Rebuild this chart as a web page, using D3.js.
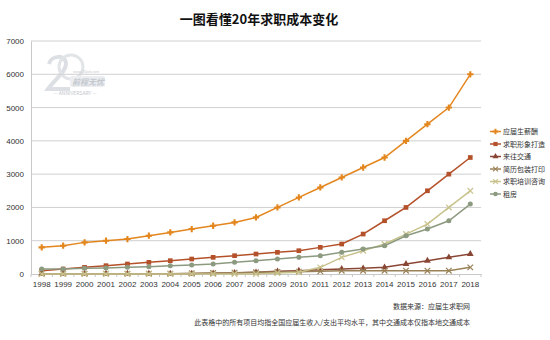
<!DOCTYPE html>
<html>
<head>
<meta charset="utf-8">
<script src="https://cdn.jsdelivr.net/npm/d3@7"></script>
<style>
  body { margin: 0; background: #fff; }
  svg { display: block; font-family: "Noto Sans CJK SC", "Noto Sans", sans-serif; }
</style>
</head>
<body>
<svg id="chart"></svg>
<script>
// years on the x axis
const years = ["1998", "1999", "2000", "2001", "2002", "2003", "2004", "2005", "2006", "2007",
  "2008", "2009", "2010", "2011", "2012", "2013", "2014", "2015", "2016", "2017", "2018"];

// each series, one value per year
const salary    = [800, 850, 950, 1000, 1050, 1150, 1250, 1350, 1450, 1550, 1700, 2000, 2300, 2600, 2900, 3200, 3500, 4000, 4500, 5000, 6000];
const image     = [100, 150, 200, 250, 300, 350, 400, 450, 500, 550, 600, 650, 700, 800, 900, 1200, 1600, 2000, 2500, 3000, 3500];
const transport = [10, 10, 10, 10, 10, 10, 10, 10, 20, 30, 50, 80, 100, 130, 150, 170, 200, 300, 400, 500, 600];
const resume    = [10, 10, 10, 10, 10, 10, 10, 20, 30, 40, 50, 60, 70, 80, 100, 100, 100, 100, 100, 100, 200];
const training  = [0, 0, 0, 0, 0, 0, 0, 0, 0, 0, 0, 30, 50, 200, 500, 700, 900, 1200, 1500, 2000, 2500];
const rent      = [150, 150, 170, 180, 200, 220, 250, 270, 300, 350, 400, 450, 500, 550, 650, 750, 850, 1150, 1350, 1600, 2100];

const seriesNames = ["应届生薪酬", "求职形象打造", "来往交通", "简历包装打印", "求职培训咨询", "租房"];
const seriesValues = [salary, image, transport, resume, training, rent];
const yTicks = [0, 1000, 2000, 3000, 4000, 5000, 6000, 7000];

const colors = ["#e3861e", "#b4512a", "#8a4634", "#9a8258", "#c8c28c", "#8c9a80"];
const symbols = [d3.symbolCross, d3.symbolSquare, d3.symbolTriangle, d3.symbolTimes, d3.symbolTimes, d3.symbolCircle];
const symSize = [22, 22, 20, 22, 22, 20];

const W = 550, H = 340;
const M = { left: 31, right: 69, top: 41, bottom: 66 };

const svg = d3.select("#chart").attr("width", W).attr("height", H);

const x = d3.scaleBand().domain(years).range([M.left, W - M.right]);
const y = d3.scaleLinear().domain([0, 7000]).range([H - M.bottom, M.top]);
const cx = d => x(d) + x.bandwidth() / 2;

// title
svg.append("text")
  .attr("x", 259).attr("y", 24)
  .attr("text-anchor", "middle")
  .attr("font-size", 13).attr("font-weight", "bold").attr("fill", "#111")
  .text("一图看懂20年求职成本变化");

// faint anniversary logo behind the plot
const logo = svg.append("g");
logo.append("path")   // the "2"
  .attr("d", "M49,64 C51,55 66,54 66,64 C66,72 55,79 48,89 L70,89")
  .attr("fill", "none").attr("stroke", "#dcdfe3").attr("stroke-width", 4);
logo.append("ellipse")   // the "0"
  .attr("cx", 71).attr("cy", 67).attr("rx", 12).attr("ry", 12)
  .attr("fill", "none").attr("stroke", "#e2e5e8").attr("stroke-width", 3);
logo.append("text").attr("x", 73).attr("y", 73).attr("font-size", 3.5).attr("fill", "#c6cacf").text("www.51job.com");
logo.append("rect").attr("x", 70).attr("y", 76).attr("width", 35).attr("height", 11).attr("rx", 2).attr("fill", "#eceef1");
logo.append("text").attr("x", 72).attr("y", 85).attr("font-size", 8).attr("font-weight", "bold")
  .attr("font-style", "italic").attr("fill", "#c3c8ce").text("前程无忧");
logo.append("text").attr("x", 75).attr("y", 95).attr("font-size", 5).attr("text-anchor", "middle")
  .attr("fill", "#c4c8cc").text("— ANNIVERSARY —");

// horizontal gridlines
svg.append("g")
  .selectAll("line")
  .data(yTicks.slice(1))
  .join("line")
  .attr("x1", M.left).attr("x2", W - M.right)
  .attr("y1", d => y(d)).attr("y2", d => y(d))
  .attr("stroke", "#d0d0d0").attr("stroke-width", 1);

// y axis
const yAxis = svg.append("g")
  .attr("transform", `translate(${M.left},0)`)
  .call(d3.axisLeft(y).tickValues(yTicks).tickFormat(d3.format("d")).tickSize(0).tickPadding(7));
yAxis.select(".domain").attr("stroke", "#c8c8c8");
yAxis.selectAll("text").attr("font-size", 8).attr("fill", "#333").attr("font-family", "Liberation Sans, sans-serif");

// x axis with ticks between the categories
const xAxis = svg.append("g")
  .attr("transform", `translate(0,${y(0)})`)
  .call(d3.axisBottom(x).tickSize(0).tickPadding(7));
xAxis.select(".domain").attr("stroke", "#c8c8c8");
xAxis.selectAll("text").attr("font-size", 8).attr("fill", "#333").attr("font-family", "Liberation Sans, sans-serif");
xAxis.selectAll(".sep")
  .data(years.concat(["end"]))
  .join("line")
  .attr("class", "sep")
  .attr("x1", (d, i) => M.left + i * x.bandwidth())
  .attr("x2", (d, i) => M.left + i * x.bandwidth())
  .attr("y1", 0).attr("y2", 3)
  .attr("stroke", "#c8c8c8");

// series lines and markers
const line = d3.line().x((d, i) => cx(years[i])).y(d => y(d));
const isStroke = s => symbols[s] === d3.symbolTimes;

seriesValues.forEach((vals, s) => {
  const g = svg.append("g");
  g.append("path")
    .datum(vals)
    .attr("fill", "none")
    .attr("stroke", colors[s])
    .attr("stroke-width", 1.5)
    .attr("d", line);
  g.selectAll("path.pt")
    .data(vals)
    .join("path")
    .attr("class", "pt")
    .attr("transform", (d, i) => `translate(${cx(years[i])},${y(d)})`)
    .attr("d", d3.symbol(symbols[s], symSize[s]))
    .attr("fill", isStroke(s) ? "none" : colors[s])
    .attr("stroke", isStroke(s) ? colors[s] : "none")
    .attr("stroke-width", 1.2);
});

// legend
const legend = svg.append("g").attr("transform", "translate(490,131.5)");
seriesNames.forEach((name, s) => {
  const row = legend.append("g").attr("transform", `translate(0,${s * 12.5})`);
  row.append("line").attr("x1", 0).attr("x2", 11).attr("stroke", colors[s]).attr("stroke-width", 1.5);
  row.append("path")
    .attr("transform", "translate(5.5,0)")
    .attr("d", d3.symbol(symbols[s], symSize[s] * 0.8))
    .attr("fill", isStroke(s) ? "none" : colors[s])
    .attr("stroke", isStroke(s) ? colors[s] : "none")
    .attr("stroke-width", 1.1);
  row.append("text").attr("x", 13).attr("y", 2.5).attr("font-size", 7).attr("fill", "#333").text(name);
});

// source and notes under the chart
svg.append("text").attr("x", 470).attr("y", 309).attr("text-anchor", "end")
  .attr("font-size", 7).attr("fill", "#333").text("数据来源：应届生求职网");
svg.append("text").attr("x", 470).attr("y", 325).attr("text-anchor", "end")
  .attr("font-size", 7).attr("fill", "#333")
  .text("此表格中的所有项目均指全国应届生收入/支出平均水平，其中交通成本仅指本地交通成本");
</script>
</body>
</html>
